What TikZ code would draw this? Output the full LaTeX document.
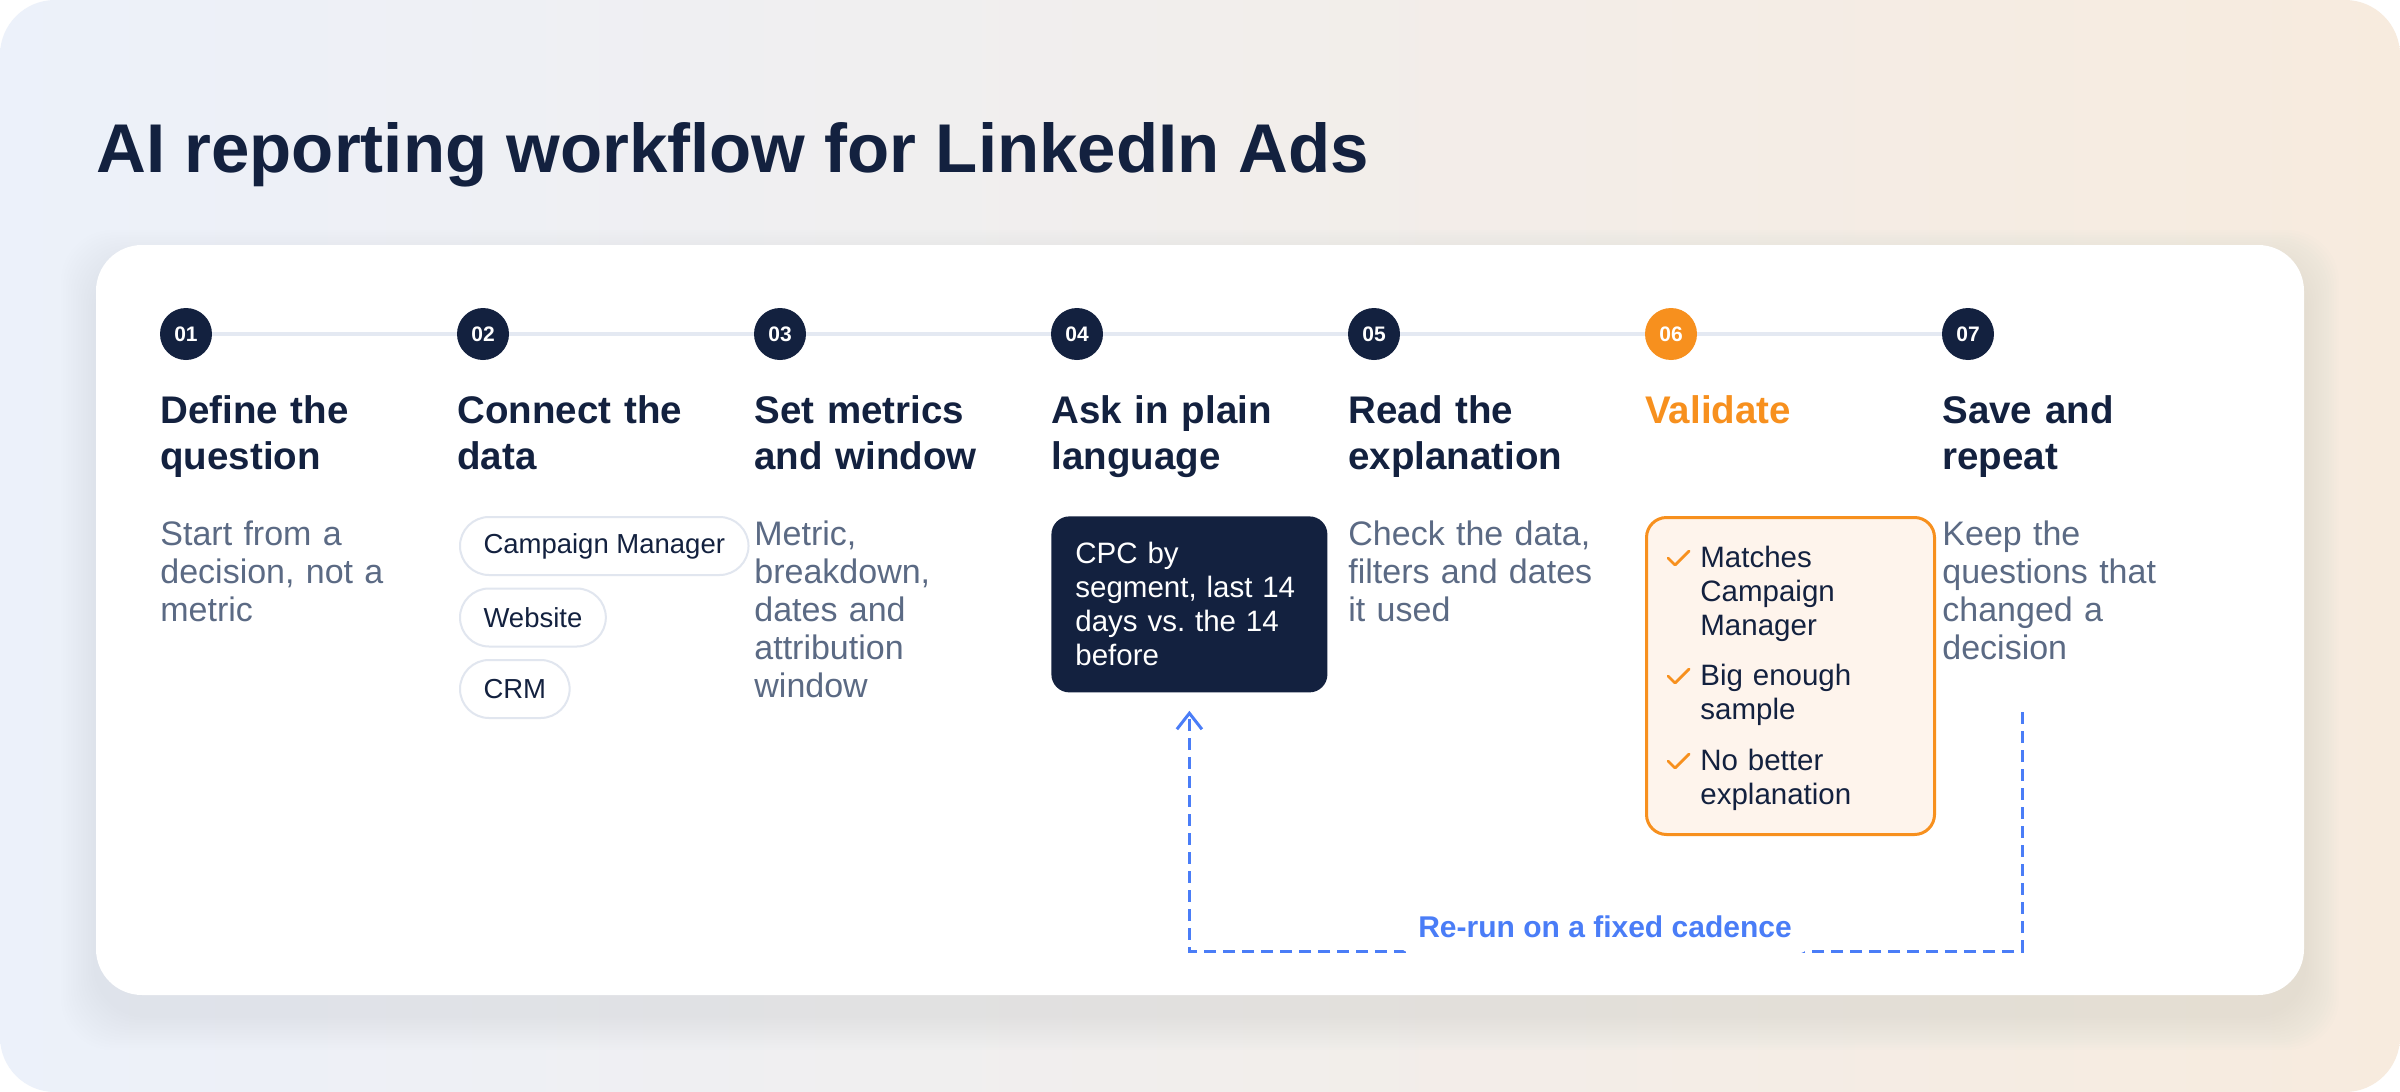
\documentclass[tikz,border=0pt]{standalone}
\usepackage{fontspec}
\setmainfont{Liberation Sans}
\usetikzlibrary{arrows.meta}
\definecolor{navy}{HTML}{13213F}
\definecolor{descgray}{HTML}{5B6A84}
\definecolor{accent}{HTML}{F7901E}
\definecolor{peach}{HTML}{FEF4EC}
\definecolor{trackgray}{HTML}{E4E9F2}
\definecolor{chipborder}{HTML}{E1E6EF}
\definecolor{loopblue}{HTML}{4A7DF7}
\definecolor{bgleft}{HTML}{ECF1FA}
\definecolor{bgright}{HTML}{F7EBDE}
\definecolor{shadowtint}{HTML}{6F7FA8}
\begin{document}
\begin{tikzpicture}[x=0.5pt,y=-0.5pt,
  stepdot/.style={circle, fill=navy, minimum size=26pt, inner sep=0pt, text=white, font=\fontsize{10.5}{12}\selectfont\bfseries},
  steptitle/.style={anchor=base west, inner sep=0pt, text width=140pt, align=left, text=navy, font=\fontsize{19.25}{23}\selectfont\bfseries},
  stepdesc/.style={anchor=base west, inner sep=0pt, text width=135pt, align=left, text=descgray, font=\fontsize{17}{19}\selectfont},
  chip/.style={draw=chipborder, line width=1pt, fill=white, rounded corners=14.5pt, minimum height=29pt, inner xsep=11.75pt, inner ysep=0pt, anchor=west, text=navy, font=\fontsize{13.75}{16}\selectfont},
  track/.style={draw=trackgray, line width=2pt},
  darkbox/.style={anchor=north west, fill=navy, rounded corners=9pt, minimum height=88pt, text width=114pt, inner xsep=12pt, inner ysep=0pt, align=left, text=white, font=\fontsize{14.75}{17}\selectfont},
  valbox/.style={anchor=north west, fill=peach, draw=accent, line width=1.5pt, rounded corners=10pt, minimum width=144pt, minimum height=158.5pt, inner sep=0pt},
  valitem/.style={anchor=base west, inner sep=0pt, text width=110pt, align=left, text=navy, font=\fontsize{14.75}{17}\selectfont},
  checkmark/.style={draw=accent, line width=1.4pt, line cap=round, line join=round},
  loopline/.style={draw=loopblue, line width=1.5pt, dash pattern=on 6pt off 3.5pt},
  looplabel/.style={fill=white, rounded corners=10pt, inner xsep=11.5pt, inner ysep=0pt, minimum height=27pt, text=loopblue, font=\fontsize{15}{18}\selectfont\bfseries}
]
\useasboundingbox (0,0) rectangle (2400,1092);
\fill[white] (0,0) rectangle (2400,1092);
\shade[left color=bgleft, right color=bgright, rounded corners=27.5pt] (0,0) rectangle (2400,1092);
% card shadow
\foreach \s in {1,...,14}{
  \fill[shadowtint, fill opacity=0.006, rounded corners=26pt] ({96-2.5*\s},{265-2.5*\s}) rectangle ({2304+2.5*\s},{1015+2.5*\s});
}
\fill[white, rounded corners=23pt] (96,245) rectangle (2304,995);

\node[anchor=base west, inner sep=0pt, text=navy, font=\fontsize{34.5}{40}\selectfont\bfseries] (title) at (96,172) {AI reporting workflow for LinkedIn Ads};

% step markers
\node[stepdot] (s1) at (186,334) {01};
\node[stepdot] (s2) at (483,334) {02};
\node[stepdot] (s3) at (780,334) {03};
\node[stepdot] (s4) at (1077,334) {04};
\node[stepdot] (s5) at (1374,334) {05};
\node[stepdot, fill=accent] (s6) at (1671,334) {06};
\node[stepdot] (s7) at (1968,334) {07};
\draw[track] (s1) -- (s2);
\draw[track] (s2) -- (s3);
\draw[track] (s3) -- (s4);
\draw[track] (s4) -- (s5);
\draw[track] (s5) -- (s6);
\draw[track] (s6) -- (s7);

% titles
\node[steptitle] (t1) at (160,423) {Define the\\question};
\node[steptitle] (t2) at (457,423) {Connect the\\data};
\node[steptitle] (t3) at (754,423) {Set metrics\\and window};
\node[steptitle] (t4) at (1051,423) {Ask in plain\\language};
\node[steptitle] (t5) at (1348,423) {Read the\\explanation};
\node[steptitle, text=accent] (t6) at (1645,423) {Validate};
\node[steptitle] (t7) at (1942,423) {Save and\\repeat};

% descriptions
\node[stepdesc] (d1) at (160,545) {Start from a\\decision, not a\\metric};
\node[stepdesc] (d3) at (754,545) {Metric,\\breakdown,\\dates and\\attribution\\window};
\node[stepdesc] (d5) at (1348,545) {Check the data,\\filters and dates\\it used};
\node[stepdesc] (d7) at (1942,545) {Keep the\\questions that\\changed a\\decision};

% chips
\node[chip] (chipcm) at (459,546) {Campaign Manager};
\node[chip] (chipweb) at (459,617.5) {Website};
\node[chip] (chipcrm) at (459,689) {CRM};

% dark query box
\node[darkbox] (query) at (1051,516) {CPC by\\segment, last 14\\days vs.\ the 14\\before};

% validation box
\node[valbox] (val) at (1645,516) {};
\draw[checkmark] (1668,558) -- (1675,565) -- (1689,551);
\node[valitem] (v1) at (1700,567) {Matches\\Campaign\\Manager};
\draw[checkmark] (1668,676) -- (1675,683) -- (1689,669);
\node[valitem] (v2) at (1700,685) {Big enough\\sample};
\draw[checkmark] (1668,761) -- (1675,768) -- (1689,754);
\node[valitem] (v3) at (1700,770) {No better\\explanation};

% loop
\coordinate (loopstart) at (2022,712);
\draw[loopline, -{Straight Barb[length=8pt,width=12.5pt]}, shorten >=9pt]
  (loopstart) -- (loopstart |- 0,951) -- (query.south |- 0,951) -- (query.south);
\node[looplabel] (rerun) at (1605,927) {Re-run on a fixed cadence};
\end{tikzpicture}
\end{document}
